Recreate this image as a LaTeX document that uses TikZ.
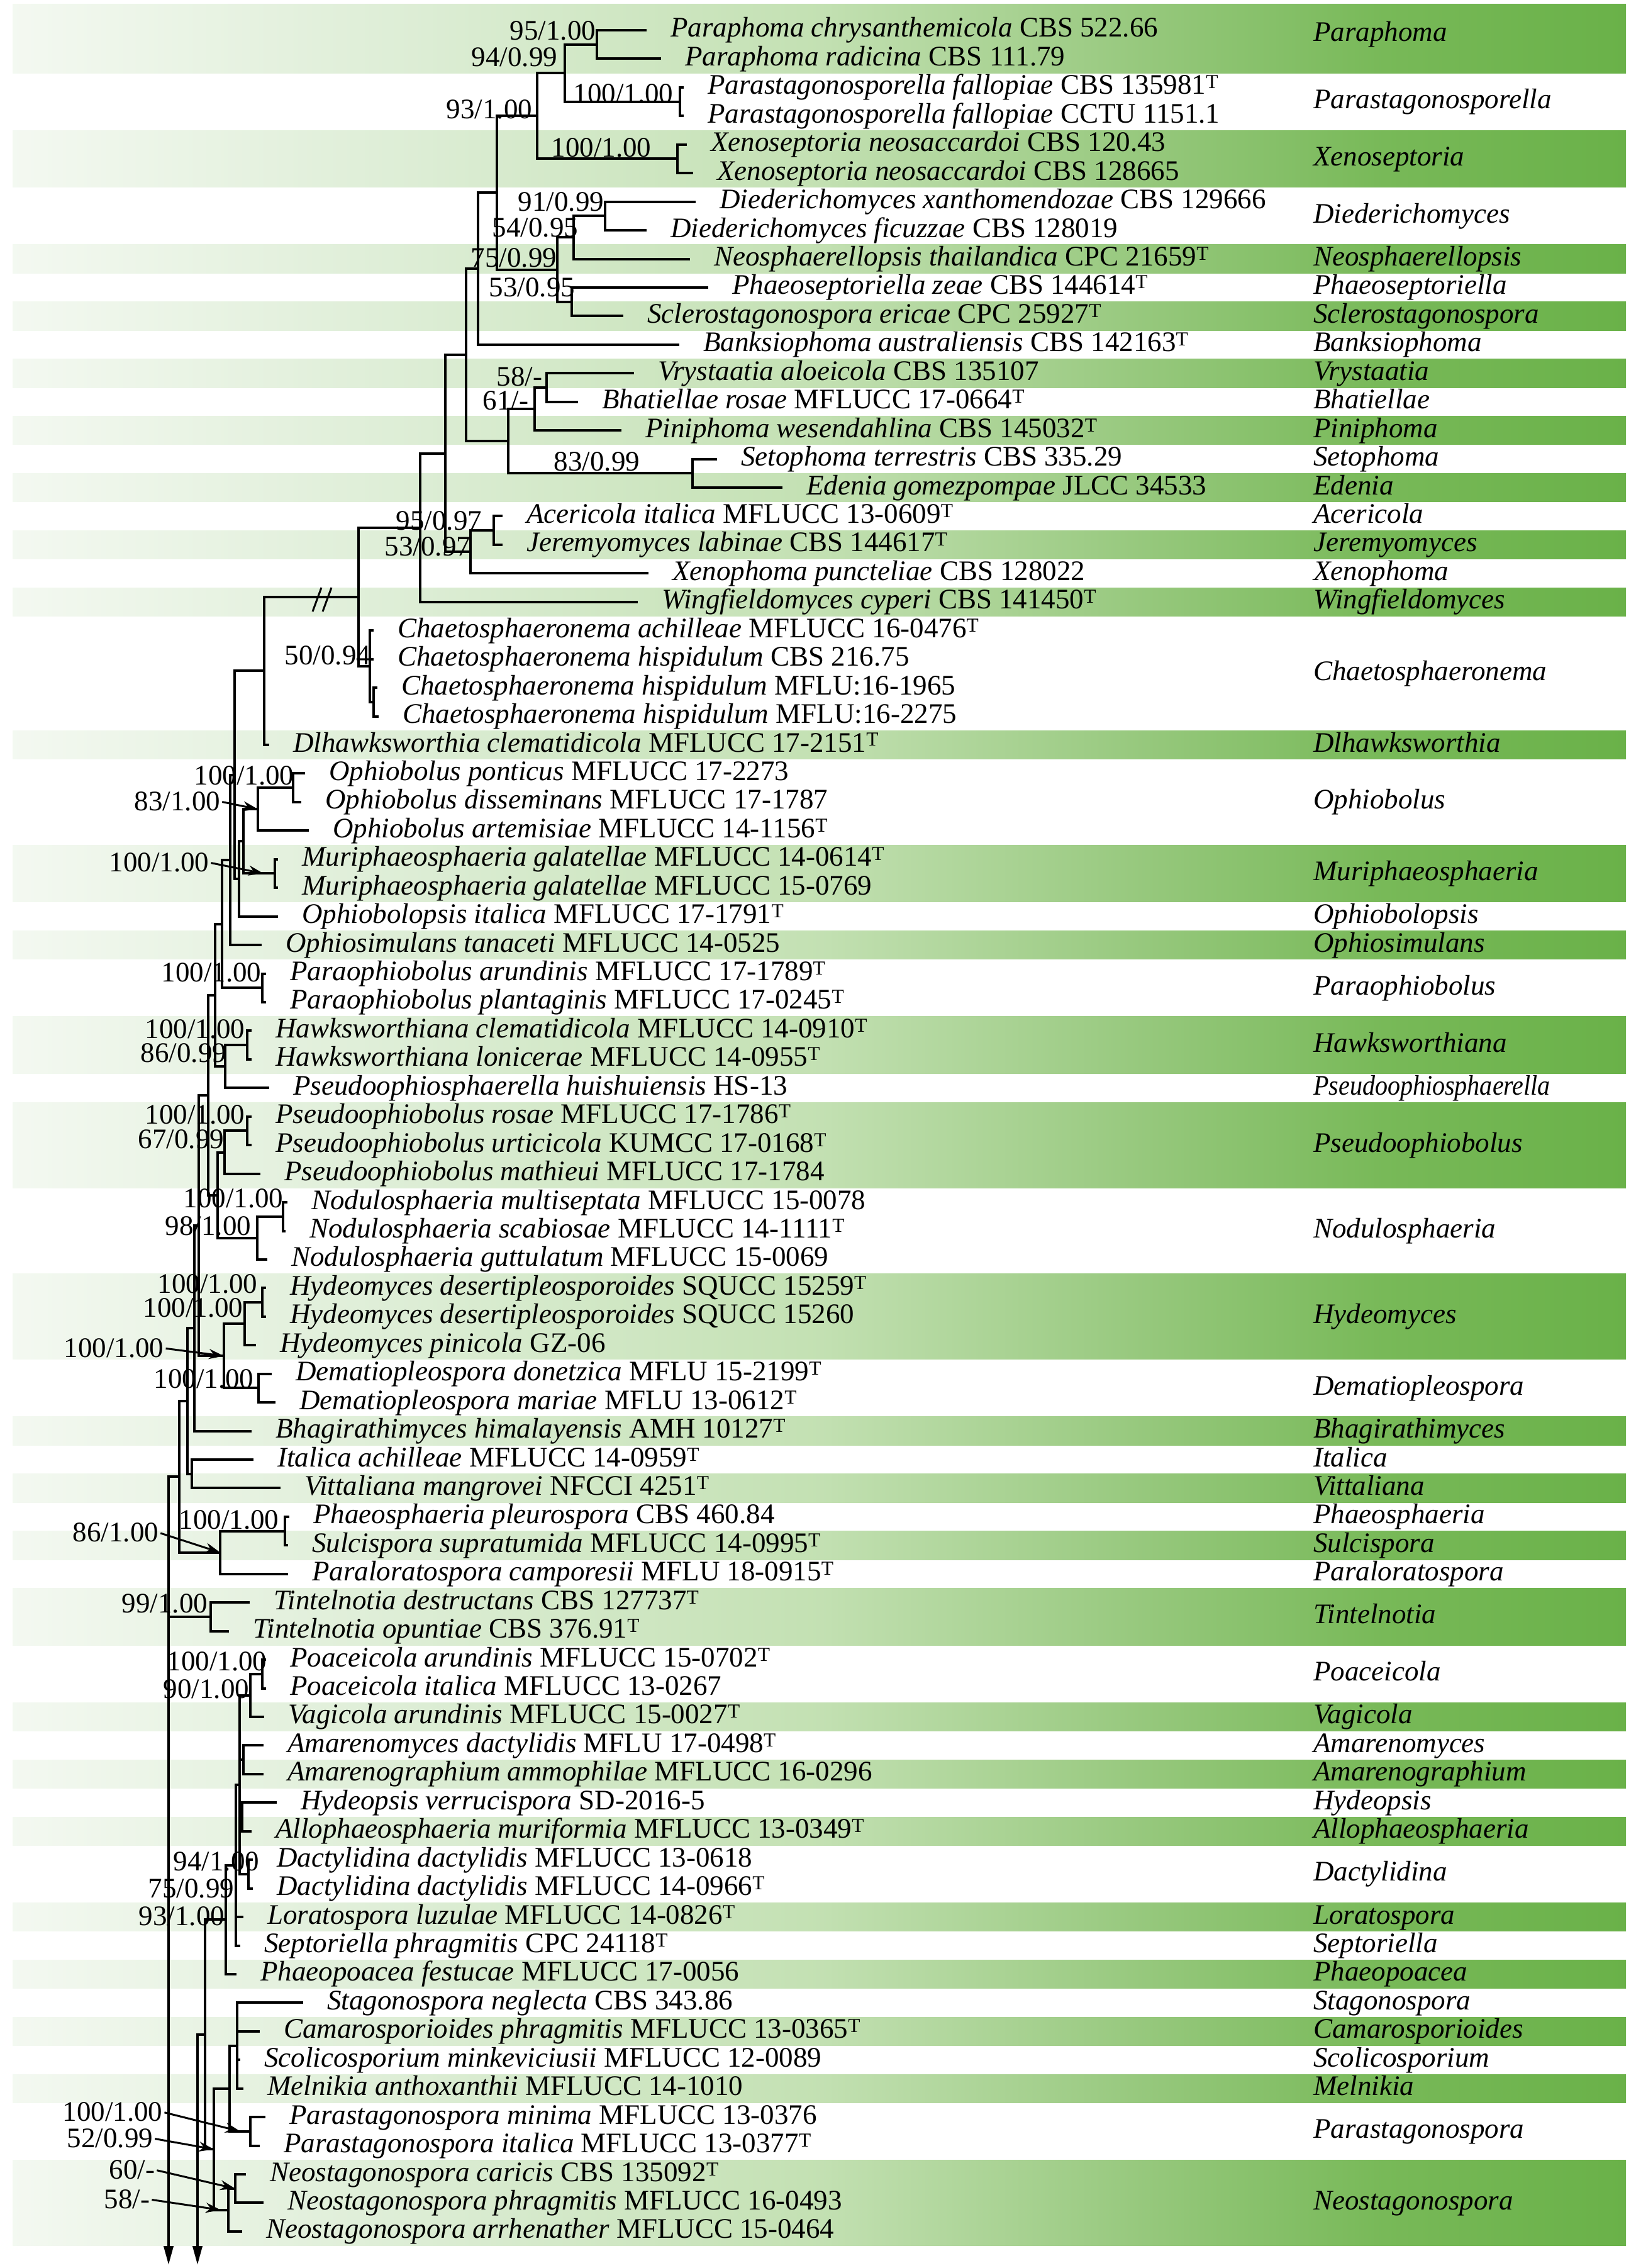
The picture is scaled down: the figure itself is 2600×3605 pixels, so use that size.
\documentclass[tikz,border=0pt]{standalone}
\usepackage{fontspec}
\setmainfont{Liberation Serif}
\usetikzlibrary{calc,arrows.meta}
\pgfdeclarehorizontalshading{bandsh}{100bp}{rgb(0bp)=(0.955,0.975,0.945); rgb(25bp)=(0.955,0.975,0.945); rgb(37.5bp)=(0.865,0.93,0.835); rgb(50bp)=(0.765,0.88,0.70); rgb(60bp)=(0.59,0.785,0.49); rgb(67.5bp)=(0.47,0.725,0.345); rgb(75bp)=(0.415,0.695,0.285); rgb(100bp)=(0.415,0.695,0.285)}
\newcommand\Ty{\textsuperscript{T}}
\newcommand\Leaf[4]{%
  \coordinate (l#1) at (#2,{48+(#1-1)*45.44});
  \node[taxon] (t#1) at ([xshift=40pt]l#1) {\textit{#3} #4};}
\newcommand\Clade[5]{%
  \path let \p1=(#3), \p2=(#4) in (#2pt,{0.5*(\y1+\y2)}) coordinate (#1);
  \draw[br] (#3 -| #1) -- (#4 -| #1);
  \foreach \kid in {#5}{\draw[br] (\kid -| #1) -- (\kid);}}
\newcommand\Gband[4]{%
  \shade[shading=bandsh] (20,{48+(#2-1)*45.44-22.72}) rectangle (2585,{48+(#3-1)*45.44+22.72});
  \node[genus] (#1) at (2088,{48+((#2+#3)/2-1)*45.44}) {#4};}
\newcommand\Wband[4]{%
  \node[genus] (#1) at (2088,{48+((#2+#3)/2-1)*45.44}) {#4};}
\begin{document}
\begin{tikzpicture}[x=1pt,y=-1pt,
  br/.style={line width=4pt,line cap=rect},
  taxon/.style={anchor=west,inner sep=0pt,font=\fontsize{45}{50}\selectfont,text height=31pt,text depth=9pt},
  genus/.style={anchor=west,inner sep=0pt,font=\fontsize{45}{50}\selectfont\itshape,text height=31pt,text depth=9pt},
  boot/.style={inner sep=0pt,font=\fontsize{45}{50}\selectfont,text height=29pt,text depth=1pt},
  arr/.style={line width=3pt,-{Stealth[length=24pt,width=16pt]},shorten <=3pt}]
\fill[white] (0,0) rectangle (2600,3605);
\useasboundingbox (0,0) rectangle (2600,3605);
% ---------- bands and genus labels ----------
\shade[shading=bandsh] (20,7) rectangle (2585,{48+45.44+22.72});
\node[genus] (gb1) at (2088,55) {Paraphoma};
\Wband{gb2}{3}{4}{Parastagonosporella}
\Gband{gb3}{5}{6}{Xenoseptoria}
\Wband{gb4}{7}{8}{Diederichomyces}
\Gband{gb5}{9}{9}{Neosphaerellopsis}
\Wband{gb6}{10}{10}{Phaeoseptoriella}
\Gband{gb7}{11}{11}{Sclerostagonospora}
\Wband{gb8}{12}{12}{Banksiophoma}
\Gband{gb9}{13}{13}{Vrystaatia}
\Wband{gb10}{14}{14}{Bhatiellae}
\Gband{gb11}{15}{15}{Piniphoma}
\Wband{gb12}{16}{16}{Setophoma}
\Gband{gb13}{17}{17}{Edenia}
\Wband{gb14}{18}{18}{Acericola}
\Gband{gb15}{19}{19}{Jeremyomyces}
\Wband{gb16}{20}{20}{Xenophoma}
\Gband{gb17}{21}{21}{Wingfieldomyces}
\Wband{gb18}{22}{25}{Chaetosphaeronema}
\Gband{gb19}{26}{26}{Dlhawksworthia}
\Wband{gb20}{27}{29}{Ophiobolus}
\Gband{gb21}{30}{31}{Muriphaeosphaeria}
\Wband{gb22}{32}{32}{Ophiobolopsis}
\Gband{gb23}{33}{33}{Ophiosimulans}
\Wband{gb24}{34}{35}{Paraophiobolus}
\Gband{gb25}{36}{37}{Hawksworthiana}
\Wband{gb26}{38}{38}{\scalebox{0.89}[1]{\itshape Pseudoophiosphaerella}}
\Gband{gb27}{39}{41}{Pseudoophiobolus}
\Wband{gb28}{42}{44}{Nodulosphaeria}
\Gband{gb29}{45}{47}{Hydeomyces}
\Wband{gb30}{48}{49}{Dematiopleospora}
\Gband{gb31}{50}{50}{Bhagirathimyces}
\Wband{gb32}{51}{51}{Italica}
\Gband{gb33}{52}{52}{Vittaliana}
\Wband{gb34}{53}{53}{Phaeosphaeria}
\Gband{gb35}{54}{54}{Sulcispora}
\Wband{gb36}{55}{55}{Paraloratospora}
\Gband{gb37}{56}{57}{Tintelnotia}
\Wband{gb38}{58}{59}{Poaceicola}
\Gband{gb39}{60}{60}{Vagicola}
\Wband{gb40}{61}{61}{Amarenomyces}
\Gband{gb41}{62}{62}{Amarenographium}
\Wband{gb42}{63}{63}{Hydeopsis}
\Gband{gb43}{64}{64}{Allophaeosphaeria}
\Wband{gb44}{65}{66}{Dactylidina}
\Gband{gb45}{67}{67}{Loratospora}
\Wband{gb46}{68}{68}{Septoriella}
\Gband{gb47}{69}{69}{Phaeopoacea}
\Wband{gb48}{70}{70}{Stagonospora}
\Gband{gb49}{71}{71}{Camarosporioides}
\Wband{gb50}{72}{72}{Scolicosporium}
\Gband{gb51}{73}{73}{Melnikia}
\Wband{gb52}{74}{75}{Parastagonospora}
\Gband{gb53}{76}{78}{Neostagonospora}
% ---------- leaves ----------
\Leaf{1}{1026}{Paraphoma chrysanthemicola}{CBS 522.66}
\Leaf{2}{1049}{Paraphoma radicina}{CBS 111.79}
\Leaf{3}{1085}{Parastagonosporella fallopiae}{CBS 135981\Ty}
\Leaf{4}{1085}{Parastagonosporella fallopiae}{CCTU 1151.1}
\Leaf{5}{1090}{Xenoseptoria neosaccardoi}{CBS 120.43}
\Leaf{6}{1100}{Xenoseptoria neosaccardoi}{CBS 128665}
\Leaf{7}{1104}{Diederichomyces xanthomendozae}{CBS 129666}
\Leaf{8}{1026}{Diederichomyces ficuzzae}{CBS 128019}
\Leaf{9}{1095}{Neosphaerellopsis thailandica}{CPC 21659\Ty}
\Leaf{10}{1124}{Phaeoseptoriella zeae}{CBS 144614\Ty}
\Leaf{11}{989}{Sclerostagonospora ericae}{CPC 25927\Ty}
\Leaf{12}{1078}{Banksiophoma australiensis}{CBS 142163\Ty}
\Leaf{13}{1006}{Vrystaatia aloeicola}{CBS 135107}
\Leaf{14}{917}{Bhatiellae rosae}{MFLUCC 17-0664\Ty}
\Leaf{15}{986}{Piniphoma wesendahlina}{CBS 145032\Ty}
\Leaf{16}{1138}{Setophoma terrestris}{CBS 335.29}
\Leaf{17}{1242}{Edenia gomezpompae}{JLCC 34533}
\Leaf{18}{797}{Acericola italica}{MFLUCC 13-0609\Ty}
\Leaf{19}{797}{Jeremyomyces labinae}{CBS 144617\Ty}
\Leaf{20}{1029}{Xenophoma puncteliae}{CBS 128022}
\Leaf{21}{1012}{Wingfieldomyces cyperi}{CBS 141450\Ty}
\Leaf{22}{592}{Chaetosphaeronema achilleae}{MFLUCC 16-0476\Ty}
\Leaf{23}{592}{Chaetosphaeronema hispidulum}{CBS 216.75}
\Leaf{24}{598}{Chaetosphaeronema hispidulum}{MFLU:16-1965}
\Leaf{25}{600}{Chaetosphaeronema hispidulum}{MFLU:16-2275}
\Leaf{26}{426}{Dlhawksworthia clematidicola}{MFLUCC 17-2151\Ty}
\Leaf{27}{483}{Ophiobolus ponticus}{MFLUCC 17-2273}
\Leaf{28}{477}{Ophiobolus disseminans}{MFLUCC 17-1787}
\Leaf{29}{489}{Ophiobolus artemisiae}{MFLUCC 14-1156\Ty}
\Leaf{30}{440}{Muriphaeosphaeria galatellae}{MFLUCC 14-0614\Ty}
\Leaf{31}{440}{Muriphaeosphaeria galatellae}{MFLUCC 15-0769}
\Leaf{32}{440}{Ophiobolopsis italica}{MFLUCC 17-1791\Ty}
\Leaf{33}{414}{Ophiosimulans tanaceti}{MFLUCC 14-0525}
\Leaf{34}{421}{Paraophiobolus arundinis}{MFLUCC 17-1789\Ty}
\Leaf{35}{421}{Paraophiobolus plantaginis}{MFLUCC 17-0245\Ty}
\Leaf{36}{398}{Hawksworthiana clematidicola}{MFLUCC 14-0910\Ty}
\Leaf{37}{398}{Hawksworthiana lonicerae}{MFLUCC 14-0955\Ty}
\Leaf{38}{426}{Pseudoophiosphaerella huishuiensis}{HS-13}
\Leaf{39}{398}{Pseudoophiobolus rosae}{MFLUCC 17-1786\Ty}
\Leaf{40}{398}{Pseudoophiobolus urticicola}{KUMCC 17-0168\Ty}
\Leaf{41}{412}{Pseudoophiobolus mathieui}{MFLUCC 17-1784}
\Leaf{42}{455}{Nodulosphaeria multiseptata}{MFLUCC 15-0078}
\Leaf{43}{452}{Nodulosphaeria scabiosae}{MFLUCC 14-1111\Ty}
\Leaf{44}{423}{Nodulosphaeria guttulatum}{MFLUCC 15-0069}
\Leaf{45}{421}{Hydeomyces desertipleosporoides}{SQUCC 15259\Ty}
\Leaf{46}{421}{Hydeomyces desertipleosporoides}{SQUCC 15260}
\Leaf{47}{405}{Hydeomyces pinicola}{GZ-06}
\Leaf{48}{430}{Dematiopleospora donetzica}{MFLU 15-2199\Ty}
\Leaf{49}{436}{Dematiopleospora mariae}{MFLU 13-0612\Ty}
\Leaf{50}{398}{Bhagirathimyces himalayensis}{AMH 10127\Ty}
\Leaf{51}{401}{Italica achilleae}{MFLUCC 14-0959\Ty}
\Leaf{52}{444}{Vittaliana mangrovei}{NFCCI 4251\Ty}
\Leaf{53}{458}{Phaeosphaeria pleurospora}{CBS 460.84}
\Leaf{54}{456}{Sulcispora supratumida}{MFLUCC 14-0995\Ty}
\Leaf{55}{456}{Paraloratospora camporesii}{MFLU 18-0915\Ty}
\Leaf{56}{395}{Tintelnotia destructans}{CBS 127737\Ty}
\Leaf{57}{362}{Tintelnotia opuntiae}{CBS 376.91\Ty}
\Leaf{58}{421}{Poaceicola arundinis}{MFLUCC 15-0702\Ty}
\Leaf{59}{421}{Poaceicola italica}{MFLUCC 13-0267}
\Leaf{60}{418}{Vagicola arundinis}{MFLUCC 15-0027\Ty}
\Leaf{61}{417}{Amarenomyces dactylidis}{MFLU 17-0498\Ty}
\Leaf{62}{417}{Amarenographium ammophilae}{MFLUCC 16-0296}
\Leaf{63}{438}{Hydeopsis verrucispora}{SD-2016-5}
\Leaf{64}{398}{Allophaeosphaeria muriformia}{MFLUCC 13-0349\Ty}
\Leaf{65}{400}{Dactylidina dactylidis}{MFLUCC 13-0618}
\Leaf{66}{400}{Dactylidina dactylidis}{MFLUCC 14-0966\Ty}
\Leaf{67}{385}{Loratospora luzulae}{MFLUCC 14-0826\Ty}
\Leaf{68}{380}{Septoriella phragmitis}{CPC 24118\Ty}
\Leaf{69}{374}{Phaeopoacea festucae}{MFLUCC 17-0056}
\Leaf{70}{480}{Stagonospora neglecta}{CBS 343.86}
\Leaf{71}{411}{Camarosporioides phragmitis}{MFLUCC 13-0365\Ty}
\Leaf{72}{380}{Scolicosporium minkeviciusii}{MFLUCC 12-0089}
\Leaf{73}{385}{Melnikia anthoxanthii}{MFLUCC 14-1010}
\Leaf{74}{420}{Parastagonospora minima}{MFLUCC 13-0376}
\Leaf{75}{411}{Parastagonospora italica}{MFLUCC 13-0377\Ty}
\Leaf{76}{389}{Neostagonospora caricis}{CBS 135092\Ty}
\Leaf{77}{417}{Neostagonospora phragmitis}{MFLUCC 16-0493}
\Leaf{78}{383}{Neostagonospora arrhenather}{MFLUCC 15-0464}
% ---------- clades: upper part ----------
\Clade{pa}{949}{l1}{l2}{l1,l2}
\Clade{ps}{1081}{l3}{l4}{l3,l4}
\Clade{n94}{898}{pa}{ps}{pa,ps}
\Clade{xe}{1077}{l5}{l6}{l5,l6}
\Clade{n93}{854}{n94}{xe}{n94,xe}
\Clade{di}{962}{l7}{l8}{l7,l8}
\Clade{n54}{912}{di}{l9}{di,l9}
\Clade{n53}{909}{l10}{l11}{l10,l11}
\Clade{n75}{886}{n54}{n53}{n54,n53}
\Clade{n79}{790}{n93}{n75}{n93,n75}
\Clade{n76}{760}{n79}{l12}{n79,l12}
\Clade{vb}{869}{l13}{l14}{l13,l14}
\Clade{n61}{850}{vb}{l15}{vb,l15}
\Clade{se}{1101}{l16}{l17}{l16,l17}
\Clade{n80}{808}{n61}{se}{n61,se}
\Clade{n74}{741}{n76}{n80}{n76,n80}
\Clade{aj}{785}{l18}{l19}{l18,l19}
\Clade{nxj}{748}{aj}{l20}{aj,l20}
\Clade{n70}{708}{n74}{nxj}{n74,nxj}
\Clade{n66}{668}{n70}{l21}{n70,l21}
\Clade{cb}{594}{l24}{l25}{l24,l25}
\Clade{ch}{588}{l22}{cb}{l22,l23,cb}
\Clade{n57}{570}{n66}{ch}{n66,ch}
\Clade{n42}{420}{n57}{l26}{n57,l26}
% ---------- clades: lower part ----------
\Clade{o1}{466}{l27}{l28}{l27,l28}
\Clade{o2}{410}{o1}{l29}{o1,l29}
\Clade{mu}{437}{l30}{l31}{l30,l31}
\Clade{n387}{387}{o2}{mu}{o2,mu}
\Clade{n380}{380}{n387}{l32}{n387,l32}
\Clade{n375}{373}{n42}{n380}{n42,n380}
\Clade{n367}{366}{n375}{l33}{n375,l33}
\Clade{pp}{417}{l34}{l35}{l34,l35}
\Clade{n353}{353}{n367}{pp}{n367,pp}
\Clade{hk}{393}{l36}{l37}{l36,l37}
\Clade{g86}{358}{hk}{l38}{hk,l38}
\Clade{n343}{342}{n353}{g86}{n353,g86}
\Clade{psa}{393}{l39}{l40}{l39,l40}
\Clade{h67}{357}{psa}{l41}{psa,l41}
\Clade{nda}{450}{l42}{l43}{l42,l43}
\Clade{i98}{409}{nda}{l44}{nda,l44}
\Clade{n345}{346}{h67}{i98}{h67,i98}
\Clade{n332}{331}{n343}{n345}{n343,n345}
\Clade{hya}{417}{l45}{l46}{l45,l46}
\Clade{hy}{389}{hya}{l47}{hya,l47}
\Clade{de}{411}{l48}{l49}{l48,l49}
\Clade{j100}{356}{hy}{de}{hy,de}
\Clade{n315}{316}{n332}{j100}{n332,j100}
\Clade{n308}{309}{n315}{l50}{n315,l50}
\Clade{lm}{305}{l51}{l52}{l51,l52}
\Clade{n299}{298}{n308}{lm}{n308,lm}
\Clade{pha}{453}{l53}{l54}{l53,l54}
\Clade{nn}{350}{pha}{l55}{pha,l55}
\Clade{n281}{285}{n299}{nn}{n299,nn}
\Clade{ti}{335}{l56}{l57}{l56,l57}
\Clade{po}{417}{l58}{l59}{l58,l59}
\Clade{poa}{398}{po}{l60}{po,l60}
\Clade{am}{387}{l61}{l62}{l61,l62}
\Clade{hyb}{385}{l63}{l64}{l63,l64}
\Clade{da}{395}{l65}{l66}{l65,l66}
\Clade{pb}{381}{poa}{da}{poa,am,hyb,da}
\Clade{pc}{375}{pb}{l68}{pb,l67,l68}
\Clade{p93}{359}{pc}{l69}{pc,l69}
\Clade{qa}{377}{l70}{l73}{l70,l71,l72,l73}
\Clade{pg}{398}{l74}{l75}{l74,l75}
\Clade{qb}{365}{qa}{pg}{qa,pg}
\Clade{nea}{374}{l76}{l77}{l76,l77}
\Clade{ne}{363}{nea}{l78}{nea,l78}
\Clade{qc}{340}{qb}{ne}{qb,ne}
\Clade{n326}{326}{p93}{qc}{p93,qc}
% ---------- root lines with arrows ----------
\coordinate (rA) at (268,3600);
\coordinate (rB) at (314,3600);
\draw[br] (n281 -| rA) -- (n281);
\draw[br] (ti -| rA) -- (ti);
\draw[line width=4pt,-{Triangle[length=30pt,width=15pt]}] (n281 -| rA) -- (rA);
\draw[br] (n326 -| rB) -- (n326);
\draw[line width=4pt,-{Triangle[length=30pt,width=15pt]}] (n326 -| rB) -- (rB);
% break mark
\draw[line width=3pt] (497,972) -- (511,934);
\draw[line width=3pt] (513,972) -- (527,934);
% ---------- support values ----------
\node[boot] (b1) at (879,50) {95/1.00};
\node[boot] (b2) at (818,92) {94/0.99};
\node[boot] (b3) at (991,150) {100/1.00};
\node[boot] (b4) at (778,174) {93/1.00};
\node[boot] (b5) at (956,235) {100/1.00};
\node[boot] (b6) at (892,321) {91/0.99};
\node[boot] (b7) at (851,362) {54/0.95};
\node[boot] (b8) at (817,410) {75/0.99};
\node[boot] (b9) at (846,457) {53/0.95};
\node[boot] (b10) at (826,599) {58/-};
\node[boot] (b11) at (804,637) {61/-};
\node[boot] (b12) at (949,734) {83/0.99};
\node[boot] (b13) at (698,828) {95/0.97};
\node[boot] (b14) at (680,869) {53/0.97};
\node[boot] (b15) at (521,1042) {50/0.94};
\node[boot] (b16) at (388,1233) {100/1.00};
\node[boot] (b17) at (282,1274) {83/1.00};
\node[boot] (b18) at (253,1371) {100/1.00};
\node[boot] (b19) at (336,1546) {100/1.00};
\node[boot] (b20) at (310,1636) {100/1.00};
\node[boot] (b21) at (292,1674) {86/0.99};
\node[boot] (b22) at (310,1772) {100/1.00};
\node[boot] (b23) at (288,1811) {67/0.99};
\node[boot] (b24) at (371,1905) {100/1.00};
\node[boot] (b25) at (331,1949) {98/1.00};
\node[boot] (b26) at (330,2041) {100/1.00};
\node[boot] (b27) at (307,2079) {100/1.00};
\node[boot] (b28) at (181,2143) {100/1.00};
\node[boot] (b29) at (324,2192) {100/1.00};
\node[boot] (b30) at (364,2416) {100/1.00};
\node[boot] (b31) at (184,2436) {86/1.00};
\node[boot] (b32) at (262,2549) {99/1.00};
\node[boot] (b33) at (345,2641) {100/1.00};
\node[boot] (b34) at (328,2685) {90/1.00};
\node[boot] (b35) at (344,2959) {94/1.00};
\node[boot] (b36) at (304,3002) {75/0.99};
\node[boot] (b37) at (289,3046) {93/1.00};
\node[boot] (b38) at (179,3357) {100/1.00};
\node[boot] (b39) at (175,3399) {52/0.99};
\node[boot] (b40) at (210,3449) {60/-};
\node[boot] (b41) at (202,3496) {58/-};
% ---------- pointer arrows ----------
\draw[arr] (b17.east) -- (o2);
\draw[arr] (b18.east) -- ([xshift=-18pt]mu);
\draw[arr] (b28.east) -- (j100);
\draw[arr] (b31.east) -- (nn);
\draw[arr] (b38.east) -- ([xshift=-16pt]pg);
\draw[arr] (b39.east) -- (qc);
\draw[arr] (b40.east) -- (nea);
\draw[arr] (b41.east) -- ([xshift=-12pt]ne);
\end{tikzpicture}
\end{document}
